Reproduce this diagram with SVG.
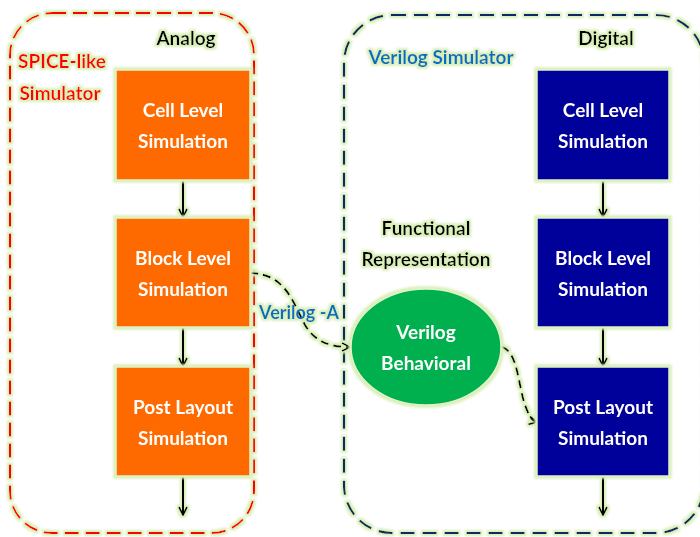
<svg xmlns="http://www.w3.org/2000/svg" width="700" height="537" viewBox="0 0 700 537">
<defs>
<filter id="glow" x="-10%" y="-10%" width="120%" height="120%">
<feMorphology in="SourceAlpha" operator="dilate" radius="1.6" result="d"/>
<feGaussianBlur in="d" stdDeviation="0.8" result="b"/>
<feFlood flood-color="#d9efb8"/>
<feComposite in2="b" operator="in" result="g"/>
<feMerge><feMergeNode in="g"/><feMergeNode in="SourceGraphic"/></feMerge>
</filter>
<marker id="arr" viewBox="0 0 10 10" refX="9" refY="5" markerWidth="10" markerHeight="10" markerUnits="userSpaceOnUse" orient="auto">
<polyline points="1,1 9,5 1,9" fill="none" stroke="#000" stroke-width="1.8"/>
</marker>
</defs>
<style>
text{font-family:Lato,"Open Sans","Liberation Sans",sans-serif;font-weight:bold;font-size:19px;text-anchor:middle}
.k{fill:#000}
.box text{fill:#fff}
.or{fill:#ff6a00;stroke:#e3f3c8;stroke-width:1.5}
.bl{fill:#00009a;stroke:#e3f3c8;stroke-width:1.5}
.flow{stroke:#000;stroke-width:2;fill:none;marker-end:url(#arr)}
.dash{stroke:#000;stroke-width:2;fill:none;stroke-dasharray:8 5;marker-end:url(#arr)}
</style>
<rect width="700" height="537" fill="#fff"/>
<g id="analog-container" filter="url(#glow)">
<rect x="10" y="13" width="244" height="520" rx="42" fill="none" stroke="#ff0000" stroke-width="2" stroke-dasharray="14 7"/>
<text x="186" y="45" class="k">Analog</text>
<text x="62" y="68" fill="#ff0000">SPICE-like</text>
<text x="60" y="100" fill="#ff0000">Simulator</text>
</g>
<g id="digital-container" filter="url(#glow)">
<rect x="344" y="15" width="360" height="518" rx="48" fill="none" stroke="#0a2a66" stroke-width="2.2" stroke-dasharray="14 8"/>
<text x="606" y="45" class="k">Digital</text>
<text x="441" y="64" fill="#0070c0">Verilog Simulator</text>
<text x="426" y="235" class="k">Functional</text>
<text x="426" y="266" class="k">Representation</text>
</g>
<g id="connectors" filter="url(#glow)">
<line class="flow" x1="183" y1="180" x2="183" y2="217"/>
<line class="flow" x1="183" y1="327" x2="183" y2="366"/>
<line class="flow" x1="183" y1="476" x2="183" y2="515"/>
<line class="flow" x1="603" y1="180" x2="603" y2="217"/>
<line class="flow" x1="603" y1="327" x2="603" y2="366"/>
<line class="flow" x1="603" y1="476" x2="603" y2="515"/>
<path class="dash" d="M250,273 C285,274 292,300 305,325 C315,342 330,347 350,347"/>
<path class="dash" d="M502,347 C518,352 518,385 525,405 C529,416 532,421 537,422"/>
<text x="299" y="319" fill="#0070c0" style="font-size:18px">Verilog -A</text>
</g>
<g id="a-cell" class="box" filter="url(#glow)">
<rect class="or" x="116" y="70" width="134" height="110"/>
<text x="183" y="117">Cell Level</text>
<text x="183" y="148">Simulation</text>
</g>
<g id="a-block" class="box" filter="url(#glow)">
<rect class="or" x="116" y="218" width="134" height="109"/>
<text x="183" y="265">Block Level</text>
<text x="183" y="296">Simulation</text>
</g>
<g id="a-post" class="box" filter="url(#glow)">
<rect class="or" x="116" y="367" width="134" height="109"/>
<text x="183" y="414">Post Layout</text>
<text x="183" y="445">Simulation</text>
</g>
<g id="d-cell" class="box" filter="url(#glow)">
<rect class="bl" x="537" y="70" width="132" height="110"/>
<text x="603" y="117">Cell Level</text>
<text x="603" y="148">Simulation</text>
</g>
<g id="d-block" class="box" filter="url(#glow)">
<rect class="bl" x="537" y="218" width="132" height="109"/>
<text x="603" y="265">Block Level</text>
<text x="603" y="296">Simulation</text>
</g>
<g id="d-post" class="box" filter="url(#glow)">
<rect class="bl" x="537" y="367" width="132" height="109"/>
<text x="603" y="414">Post Layout</text>
<text x="603" y="445">Simulation</text>
</g>
<g id="verilog-behavioral" class="box" filter="url(#glow)">
<ellipse cx="426" cy="347" rx="75" ry="58" fill="#00b050" stroke="#e3f3c8" stroke-width="1.5"/>
<text x="426" y="339">Verilog</text>
<text x="426" y="370">Behavioral</text>
</g>
</svg>
